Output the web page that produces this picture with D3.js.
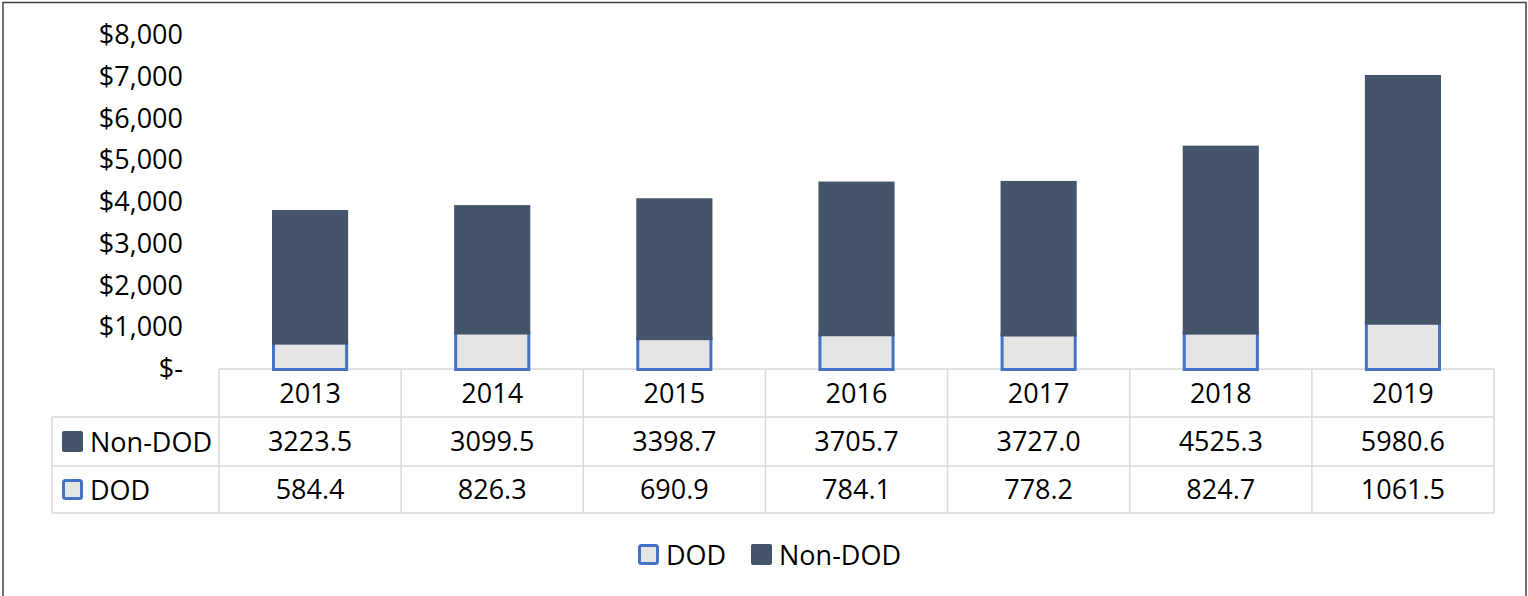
<!DOCTYPE html>
<html>
<head>
<meta charset="utf-8">
<script src="https://cdn.jsdelivr.net/npm/d3@7"></script>
<style>
  body { margin: 0; background: #fff; }
  svg { display: block; font-family: "Open Sans", sans-serif; }
</style>
</head>
<body>
<script>
var w = 1528;
var h = 596;

// chart data
var years = ["2013", "2014", "2015", "2016", "2017", "2018", "2019"];
var nonDod = [3223.5, 3099.5, 3398.7, 3705.7, 3727.0, 4525.3, 5980.6];
var dod = [584.4, 826.3, 690.9, 784.1, 778.2, 824.7, 1061.5];
var yTicks = [0, 1000, 2000, 3000, 4000, 5000, 6000, 7000, 8000];
var seriesNames = ["DOD", "Non-DOD"];

var colors = { "DOD": "#e5e5e5", "Non-DOD": "#44546a" };
var dodStroke = "#4472c4";
var gridColor = "#d9d9d9";

var rows = years.map(function(y, i) {
  return { year: y, "DOD": dod[i], "Non-DOD": nonDod[i] };
});

var svg = d3.select("body")
            .append("svg")
              .attr("width", w)
              .attr("height", h);

// outer chart border
svg.append("rect")
  .attr("x", 3).attr("y", 2.5)
  .attr("width", 1523).attr("height", 600)
  .attr("fill", "none")
  .attr("stroke", "#404040")
  .attr("stroke-width", 1.5);

var left = 219, right = 1494, zeroY = 369, topY = 35;

// columns of the data table
var cols = d3.scaleBand().domain(years).range([left, right]);

// bars, centred in each column
var x = d3.scaleBand().domain(years).range([left, right])
  .paddingInner(0.582).paddingOuter(0.291);

var y = d3.scaleLinear().domain([0, 8000]).range([zeroY, topY]);

// data table grid (drawn under the bars)
var rowY = [369, 417, 466, 513];
var tableLeft = 52;
var grid = svg.append("g")
  .attr("stroke", gridColor)
  .attr("stroke-width", 1.5)
  .attr("fill", "none");

grid.append("line").attr("x1", left).attr("x2", right).attr("y1", rowY[0]).attr("y2", rowY[0]);
rowY.slice(1).forEach(function(ry) {
  grid.append("line").attr("x1", tableLeft).attr("x2", right).attr("y1", ry).attr("y2", ry);
});
grid.append("line").attr("x1", tableLeft).attr("x2", tableLeft).attr("y1", rowY[1]).attr("y2", rowY[3]);
years.forEach(function(yr) {
  var cx = cols(yr);
  grid.append("line").attr("x1", cx).attr("x2", cx).attr("y1", rowY[0]).attr("y2", rowY[3]);
});
grid.append("line").attr("x1", right).attr("x2", right).attr("y1", rowY[0]).attr("y2", rowY[3]);

// y axis
var yAxis = d3.axisLeft(y)
  .tickValues(yTicks)
  .tickSize(0)
  .tickPadding(36)
  .tickFormat(function(d) { return d === 0 ? "$-" : "$" + d3.format(",")(d); });

var ga = svg.append("g")
  .attr("transform", "translate(" + left + ",0)")
  .call(yAxis);
ga.select(".domain").remove();
ga.selectAll("text")
  .attr("font-family", "Open Sans, sans-serif")
  .attr("font-size", 27)
  .attr("fill", "#000");

// stacked bars
var stack = d3.stack().keys(seriesNames);
var layers = stack(rows);

svg.append("g").selectAll("g")
  .data(layers)
  .enter()
  .append("g")
  .each(function(layer) {
    var isDod = layer.key === "DOD";
    d3.select(this).selectAll("rect")
      .data(layer)
      .enter()
      .append("rect")
      .attr("x", function(d) { return x(d.data.year) + (isDod ? 1.5 : 0); })
      .attr("width", x.bandwidth() - (isDod ? 3 : 0))
      // the DOD top edge tucks under the Non-DOD segment
      .attr("y", function(d) { return y(d[1]) - (isDod ? 2 : 0); })
      .attr("height", function(d) { return y(d[0]) - y(d[1]) + (isDod ? 2.5 : 0); })
      .attr("fill", colors[layer.key])
      .attr("stroke", isDod ? dodStroke : "none")
      .attr("stroke-width", 3);
  });

var fs = 27;
function cellText(txt, cx, cy) {
  svg.append("text")
    .attr("x", cx).attr("y", cy)
    .attr("text-anchor", "middle")
    .attr("dominant-baseline", "central")
    .attr("font-size", fs)
    .attr("fill", "#000")
    .text(txt);
}

years.forEach(function(yr, i) {
  var cx = cols(yr) + cols.bandwidth() / 2;
  cellText(yr, cx, (rowY[0] + rowY[1]) / 2 - 1);
  cellText(nonDod[i].toFixed(1), cx, (rowY[1] + rowY[2]) / 2 - 1);
  cellText(dod[i].toFixed(1), cx, (rowY[2] + rowY[3]) / 2 - 1);
});

// legend keys
function legendKey(g, name, kx, ky) {
  var isDod = name === "DOD";
  g.append("rect")
    .attr("x", kx + (isDod ? 1.5 : 0)).attr("y", ky + (isDod ? 1.5 : 0))
    .attr("width", isDod ? 18 : 21).attr("height", isDod ? 18 : 21)
    .attr("rx", 2)
    .attr("fill", colors[name])
    .attr("stroke", isDod ? dodStroke : "none")
    .attr("stroke-width", 3);
  g.append("text")
    .attr("x", kx + 28).attr("y", ky + 10)
    .attr("dominant-baseline", "central")
    .attr("font-size", fs)
    .attr("fill", "#000")
    .text(name);
}

var tl = svg.append("g");
legendKey(tl, "Non-DOD", 62, 431);
legendKey(tl, "DOD", 62, 479);

var bl = svg.append("g");
legendKey(bl, "DOD", 638, 544);
legendKey(bl, "Non-DOD", 751, 544);
</script>
</body>
</html>
